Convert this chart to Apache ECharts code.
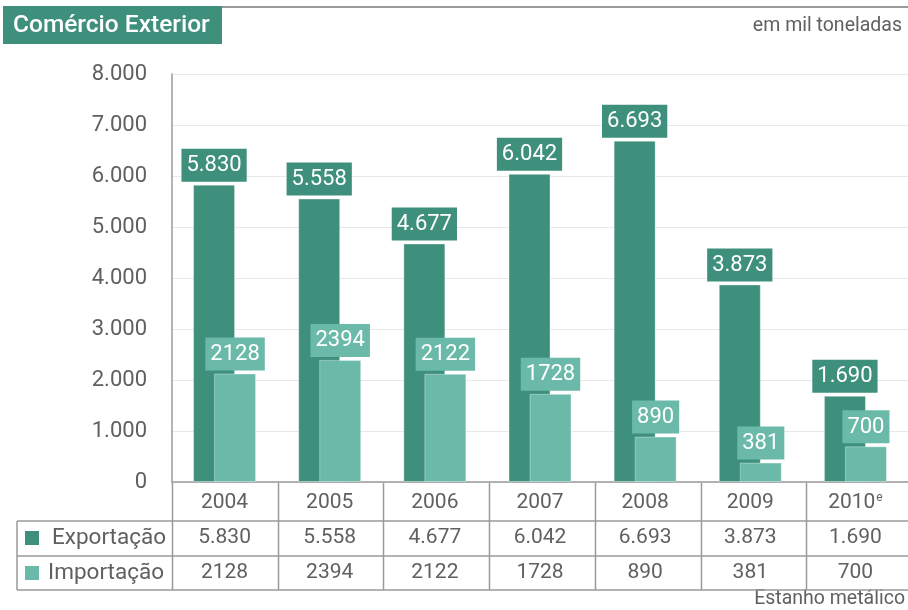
<!DOCTYPE html>
<html>
<head>
<meta charset="utf-8">
<script src="https://cdn.jsdelivr.net/npm/echarts@6/dist/echarts.min.js"></script>
<style>
html,body{margin:0;padding:0;background:#fff;}
#chart{width:908px;height:610px;}
</style>
</head>
<body>
<div id="chart"></div>
<script>
var years = ['2004', '2005', '2006', '2007', '2008', '2009', '2010e'];
var exportacao = [5830, 5558, 4677, 6042, 6693, 3873, 1690];
var importacao = [2128, 2394, 2122, 1728, 890, 381, 700];
var yTicks = [0, 1000, 2000, 3000, 4000, 5000, 6000, 7000, 8000];

var dark = '#3e907d';
var light = '#6bbaa9';
var txt = '#606060';
var lineCol = '#9a9a9a';

// grid geometry
var gLeft = 172, gTop = 74, gW = 740, gH = 408;
var colW = gW / years.length;
var rowY = [gTop + gH, 521, 556, 590];

function dots(v) {
    return String(v).replace(/\B(?=(\d{3})+(?!\d))/g, '.');
}

var chart = echarts.init(document.getElementById('chart'));

var graphics = [
    { type: 'line', shape: { x1: 222, y1: 7, x2: 908, y2: 7 }, style: { stroke: lineCol, lineWidth: 2 } },
    { type: 'rect', shape: { x: 3, y: 6, width: 219, height: 38 }, style: { fill: dark } },
    { type: 'text', x: 13, y: 26, style: { text: 'Comércio Exterior', fill: '#fff', font: '500 24.5px Roboto', verticalAlign: 'middle' } },
    { type: 'text', x: 902, y: 26, style: { text: 'em mil toneladas', fill: txt, font: '19.5px Roboto', align: 'right', verticalAlign: 'middle' } },
    { type: 'text', x: 905, y: 599, style: { text: 'Estanho metálico', fill: txt, font: '19.5px Roboto', align: 'right', verticalAlign: 'middle' } },
    { type: 'rect', shape: { x: 25, y: 531, width: 14, height: 14 }, style: { fill: dark } },
    { type: 'rect', shape: { x: 25, y: 566, width: 14, height: 14 }, style: { fill: light } },
    { type: 'text', x: 166, y: 538, style: { text: 'Exportação', fill: txt, font: '22.5px Roboto', align: 'right', verticalAlign: 'middle' } },
    { type: 'text', x: 164, y: 573, style: { text: 'Importação', fill: txt, font: '22.5px Roboto', align: 'right', verticalAlign: 'middle' } }
];
// table lines
[1, 2, 3].forEach(function (i) {
    graphics.push({ type: 'line', shape: { x1: 17, y1: rowY[i], x2: 908, y2: rowY[i] }, style: { stroke: lineCol, lineWidth: 1.5 } });
});
graphics.push({ type: 'line', shape: { x1: 17, y1: rowY[1], x2: 17, y2: rowY[3] }, style: { stroke: lineCol, lineWidth: 1.5 } });
for (var k = 0; k < years.length; k++) {
    var x = Math.round(gLeft + colW * k) + 0.5;
    graphics.push({ type: 'line', shape: { x1: x, y1: rowY[0], x2: x, y2: rowY[3] }, style: { stroke: lineCol, lineWidth: 1.5 } });
}

var labelBox = {
    show: true,
    position: 'top',
    distance: 3,
    color: '#fff',
    fontFamily: 'Roboto',
    fontSize: 22,
    padding: [6, 5, 5, 5]
};

var option = {
    animation: false,
    grid: { left: gLeft, top: gTop, width: gW, height: gH, containLabel: false },
    xAxis: [
        {
            type: 'category',
            data: years,
            axisLine: { show: true, lineStyle: { color: lineCol, width: 1.5 } },
            axisTick: { show: false },
            axisLabel: {
                interval: 0, margin: 10, color: txt, fontSize: 21, fontFamily: 'Roboto',
                formatter: function (v) {
                    return /e$/.test(v) ? v.slice(0, -1) + '{sup|e}' : v;
                },
                rich: { sup: { fontSize: 12, verticalAlign: 'top', color: txt, fontFamily: 'Roboto', padding: [0, 0, 8, 1] } }
            }
        },
        {
            type: 'category',
            data: exportacao.map(dots),
            position: 'bottom',
            axisLine: { show: false }, axisTick: { show: false },
            axisLabel: { interval: 0, margin: 45, color: txt, fontSize: 21, fontFamily: 'Roboto' }
        },
        {
            type: 'category',
            data: importacao.map(String),
            position: 'bottom',
            axisLine: { show: false }, axisTick: { show: false },
            axisLabel: { interval: 0, margin: 80, color: txt, fontSize: 21, fontFamily: 'Roboto' }
        }
    ],
    yAxis: {
        type: 'value',
        min: yTicks[0],
        max: yTicks[yTicks.length - 1],
        interval: yTicks[1] - yTicks[0],
        axisLine: { show: true, lineStyle: { color: lineCol, width: 1.5 } },
        axisTick: { show: false },
        axisLabel: { margin: 25, color: txt, fontSize: 22, fontFamily: 'Roboto', formatter: dots },
        splitLine: { lineStyle: { color: '#e8e8e8' } }
    },
    series: [
        {
            name: 'Exportação',
            type: 'bar',
            data: exportacao,
            barWidth: 42,
            barGap: '-50%',
            itemStyle: { color: dark, borderColor: 'rgba(255,255,255,0.35)', borderWidth: 1 },
            label: Object.assign({}, labelBox, { backgroundColor: dark, formatter: function (p) { return dots(p.value); } })
        },
        {
            name: 'Importação',
            type: 'bar',
            data: importacao,
            barWidth: 42,
            itemStyle: { color: light, borderColor: 'rgba(255,255,255,0.35)', borderWidth: 1 },
            label: Object.assign({}, labelBox, { backgroundColor: light })
        }
    ],
    graphic: graphics
};

chart.setOption(option);
window.addEventListener('resize', function () {
    chart.resize();
});
</script>
</body>
</html>
